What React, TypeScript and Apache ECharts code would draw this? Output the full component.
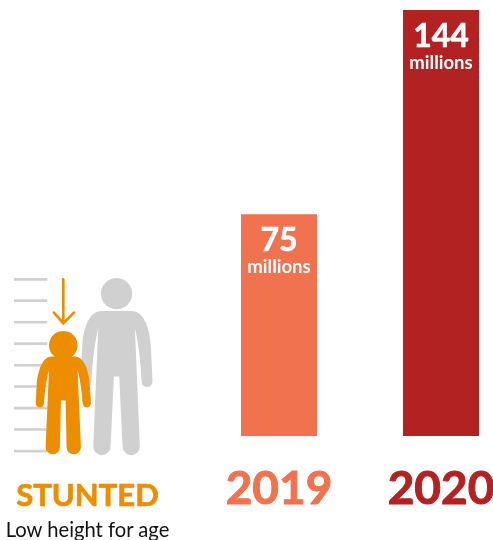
import React, { useEffect, useRef } from "react";
import * as echarts from "echarts";

const years = ["2019", "2020"];
const values = [75, 144];
const unit = "millions";
const barColors = ["#F0724E", "#B22222"];
const ORANGE = "#EC8E00";
const GRAY = "#D0D0D0";
const FONT = "Lato, 'Open Sans', sans-serif";
const rulerRows = [58, 122, 187, 251, 316, 380, 445, 509, 574];

const adultBody =
  "M305 153 L395 153 C430 153 450 200 453 260 L458 365 A16.5 16.5 0 0 1 425 365 C423 310 416 250 405 205 L420 560 A26 26 0 0 1 368 560 L358 350 L342 350 L332 560 A26 26 0 0 1 280 560 L295 205 C284 250 277 310 275 365 A16.5 16.5 0 0 1 242 365 L247 260 C250 200 270 153 305 153 Z";
const childBody =
  "M155 290 L225 290 C250 290 268 330 270 380 L273 430 A12.5 12.5 0 0 1 248 430 C246 395 241 360 233 330 L243 562 A21.5 21.5 0 0 1 200 562 L197 422 L183 422 L180 562 A21.5 21.5 0 0 1 137 562 L147 330 C139 360 134 395 132 430 A12.5 12.5 0 0 1 107 430 L110 380 C112 330 130 290 155 290 Z";

echarts.graphic.registerShape("adultBody", echarts.graphic.extendPath(adultBody, {}) as any);
echarts.graphic.registerShape("childBody", echarts.graphic.extendPath(childBody, {}) as any);

export default function App() {
  const ref = useRef<HTMLDivElement>(null);
  useEffect(() => {
    const chart = echarts.init(ref.current!, undefined, { renderer: "svg" });
    const iconPlace = { x: 0, y: 260, scaleX: 1 / 3, scaleY: 1 / 3 };
    const yearStyle = (color: string) => ({
      fontFamily: FONT,
      fontWeight: "bold",
      fontSize: 46,
      color,
      textBorderColor: color,
      textBorderWidth: 1,
    });
    chart.setOption({
      animation: false,
      grid: { left: 198, width: 324, top: 10, height: 426, outerBoundsMode: "none", containLabel: false },
      xAxis: {
        type: "category",
        data: years,
        axisLine: { show: false },
        axisTick: { show: false },
        axisLabel: {
          interval: 0,
          margin: 27,
          fontFamily: FONT,
          fontWeight: "bold",
          fontSize: 46,
          formatter: (v: string, i: number) => `{y${i}|${v}}`,
          rich: { y0: yearStyle(barColors[0]), y1: yearStyle(barColors[1]) },
        },
      },
      yAxis: { type: "value", min: 0, max: 144, show: false },
      series: [
        {
          type: "bar",
          barWidth: 76,
          data: values.map((v, i) => ({ value: v, itemStyle: { color: barColors[i] } })),
          label: {
            show: true,
            position: "insideTop",
            distance: 7,
            formatter: (p: any) => `{a|${p.value}}\n{b|${unit}}`,
            rich: {
              a: { fontFamily: FONT, fontWeight: "bold", fontSize: 32, color: "#fff", textBorderColor: "#fff", textBorderWidth: 0.6, lineHeight: 34, align: "center" },
              b: { fontFamily: FONT, fontWeight: "bold", fontSize: 18.5, color: "#fff", lineHeight: 22, align: "center" },
            },
          },
        },
      ],
      graphic: {
        elements: [
          ...rulerRows.map((r) => ({
            type: "line",
            ...iconPlace,
            shape: { x1: 42, y1: r, x2: 142, y2: r },
            style: { stroke: GRAY, lineWidth: 8 },
            z: 1,
          })),
          { type: "circle", ...iconPlace, shape: { cx: 350, cy: 101, r: 47 }, style: { fill: GRAY }, z: 2 },
          { type: "adultBody", ...iconPlace, style: { fill: GRAY }, z: 2 },
          { type: "circle", ...iconPlace, shape: { cx: 190, cy: 256, r: 43 }, style: { fill: ORANGE }, z: 3 },
          { type: "childBody", ...iconPlace, style: { fill: ORANGE }, z: 3 },
          {
            type: "line",
            ...iconPlace,
            shape: { x1: 190, y1: 58, x2: 190, y2: 188 },
            style: { stroke: ORANGE, lineWidth: 8, lineCap: "round" },
            z: 3,
          },
          {
            type: "polyline",
            ...iconPlace,
            shape: { points: [[162, 158], [190, 190], [222, 158]] },
            style: { stroke: ORANGE, lineWidth: 8, fill: "none", lineCap: "round" },
            z: 3,
          },
          {
            type: "text",
            x: 87.5,
            y: 509,
            style: {
              text: "STUNTED",
              fill: ORANGE,
              stroke: ORANGE,
              lineWidth: 0.7,
              font: `bold 31px ${FONT}`,
              textAlign: "center",
              textVerticalAlign: "bottom",
            },
            z: 3,
          },
          {
            type: "text",
            x: 87.5,
            y: 529,
            style: {
              text: "Low height for age",
              fill: "#111",
              font: `20.2px ${FONT}`,
              textAlign: "center",
              textVerticalAlign: "middle",
            },
            z: 3,
          },
        ],
      },
    });
    return () => chart.dispose();
  }, []);
  return <div ref={ref} style={{ position: "fixed", left: 0, top: 0, width: 493, height: 540 }} />;
}
